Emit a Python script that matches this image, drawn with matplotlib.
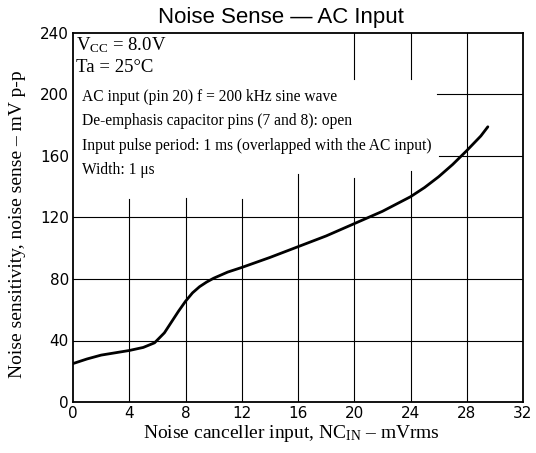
import matplotlib
matplotlib.use("Agg")
import matplotlib.pyplot as plt

# Data
nc_in = [0, 1, 2, 3, 4, 5, 5.8, 6.5, 7, 7.5, 8, 8.5, 9, 9.5, 10, 11, 12, 14, 16,
         18, 20, 22, 24, 25, 26, 27, 28, 29, 29.5]
noise_sense = [25, 28, 30.5, 32, 33.5, 35.5, 38.5, 45, 52, 59, 65.5, 71, 75, 78,
               80.5, 84.5, 87.5, 94, 101, 108, 116, 124, 133.5, 139.5, 146.5,
               154.5, 163.5, 173, 179]

x_ticks = [0, 4, 8, 12, 16, 20, 24, 28, 32]
y_ticks = [0, 40, 80, 120, 160, 200, 240]

title = "Noise Sense \u2014 AC Input"
xlabel = "Noise canceller input, NC$_{\\mathrm{IN}}$ \u2013 mVrms"
ylabel = "Noise sensitivity, noise sense \u2013 mV p-p"
notes = ["AC input (pin 20) f = 200 kHz sine wave",
         "De-emphasis capacitor pins (7 and 8): open",
         "Input pulse period: 1 ms (overlapped with the AC input)",
         "Width: 1 \u03bcs"]

plt.rcParams['mathtext.fontset'] = 'custom'
plt.rcParams['mathtext.rm'] = 'Liberation Serif'
plt.rcParams['mathtext.it'] = 'Liberation Serif'

W, H = 536, 453
fig = plt.figure(figsize=(W/100, H/100), dpi=100)
ax = fig.add_axes([73/W, 1-402/H, (523-73)/W, (402-33)/H])

# grid segments (partially hidden by the condition text block)
vgrid = [(4, 0, 132), (8, 0, 133), (12, 0, 132), (16, 0, 148), (20, 0, 146),
         (20, 210, 240), (24, 0, 150), (24, 210, 240), (28, 0, 240)]
hgrid = [(40, 0, 32), (80, 0, 32), (120, 0, 32), (160, 26, 32), (200, 25.9, 32)]
for x, y0, y1 in vgrid:
    ax.plot([x, x], [y0, y1], color='black', lw=0.8, zorder=1)
for y, x0, x1 in hgrid:
    ax.plot([x0, x1], [y, y], color='black', lw=0.8, zorder=1)

ax.plot(nc_in, noise_sense, color='black', lw=2.0, zorder=3,
        solid_capstyle='round')

ax.set_xlim(0, 32)
ax.set_ylim(0, 240)
ax.set_xticks(x_ticks)
ax.set_yticks(y_ticks)
ax.tick_params(length=0, labelsize=11, pad=3)
for lab in ax.get_xticklabels() + ax.get_yticklabels():
    lab.set_fontfamily('DejaVu Sans')
for s in ax.spines.values():
    s.set_linewidth(1.3)

fig.text(281/W, 1-18/H, title, ha='center', va='center',
         fontsize=16, family='Liberation Sans')
fig.text(291/W, 1-434/H, xlabel, ha='center', va='center',
         fontsize=14, family='Liberation Serif')
fig.text(18/W, 1-224/H, ylabel, ha='center', va='center', rotation=90,
         fontsize=14, family='Liberation Serif')

tx = lambda px: (px - 73) / 450 * 32
ty = lambda py: (402 - py) / 369 * 240
ax.text(tx(76), ty(45), r"V$_{\mathrm{CC}}$ = 8.0V", fontsize=13.5,
        family='Liberation Serif', va='center', ha='left')
ax.text(tx(76), ty(68), "Ta = 25\u00b0C", fontsize=13.5,
        family='Liberation Serif', va='center', ha='left')
for i, n in enumerate(notes):
    ax.text(tx(82), ty(97 + 24.5 * i), n, fontsize=11.2,
            family='Liberation Serif', va='center', ha='left')

fig.savefig("out.png", dpi=100)
